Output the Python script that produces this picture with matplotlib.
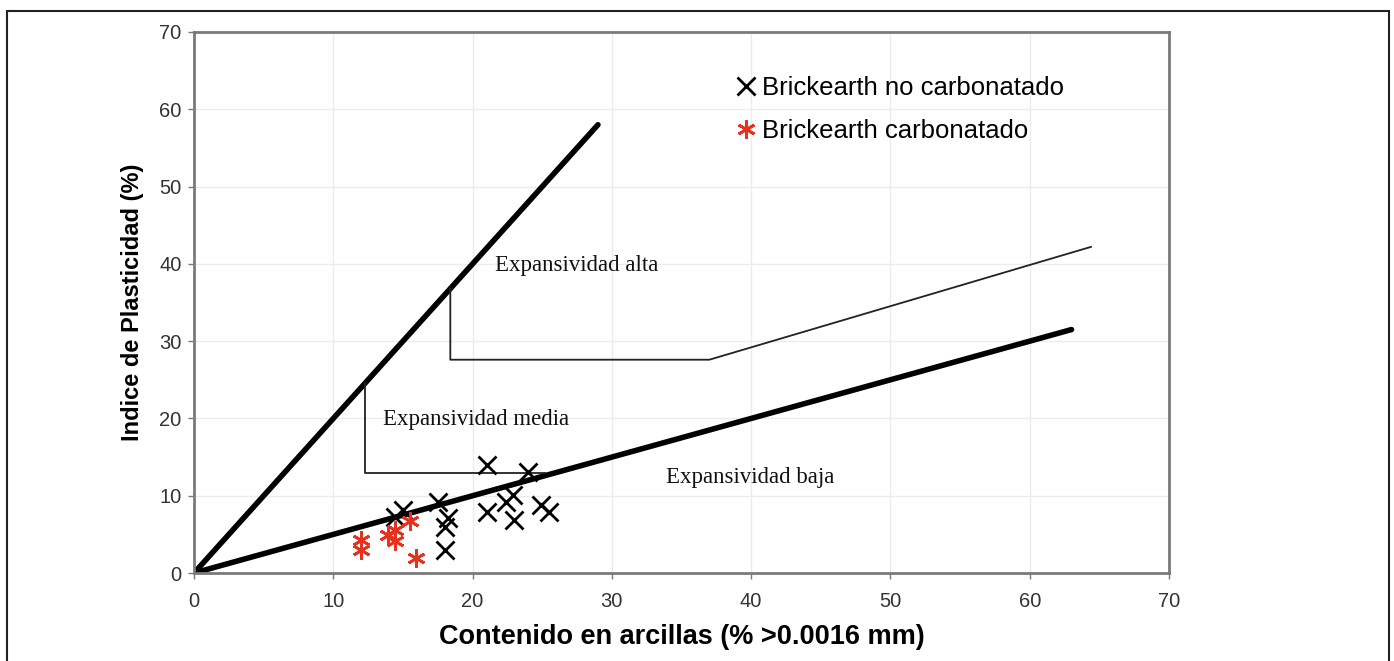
import numpy as np
import matplotlib.pyplot as plt
from matplotlib.patches import Rectangle

# muestras (contenido en arcillas, indice de plasticidad)
no_carb_x = [21.0, 24.0, 17.5, 18.2, 18.0, 18.0, 21.0, 22.4, 22.9, 23.0, 24.9, 25.5, 15.0, 14.4]
no_carb_y = [14.0, 13.1, 9.2, 7.1, 6.0, 3.0, 7.9, 9.2, 10.1, 6.9, 8.8, 7.9, 8.1, 7.3]

carb_x = [12.0, 12.0, 13.9, 14.4, 14.4, 15.5, 15.9]
carb_y = [4.3, 3.0, 4.9, 5.6, 4.1, 6.7, 1.9]

# limites de expansividad
alta_x, alta_y = [0, 29], [0, 58]
baja_x, baja_y = [0, 63], [0, 31.5]
sup_x, sup_y = [18.4, 18.4, 37.0, 64.4], [36.8, 27.6, 27.6, 42.2]
med_x, med_y = [12.3, 12.3, 25.2], [24.6, 12.9, 12.9]

zonas = ["Expansividad alta", "Expansividad media", "Expansividad baja"]
zonas_x = [21.6, 13.6, 33.9]
zonas_y = [39.8, 19.8, 12.3]

ticks = np.arange(0, 71, 10)

fig = plt.figure(figsize=(13.94, 6.61), dpi=100)
ax = fig.add_axes([0.1392, 0.1331, 0.6994, 0.8185])

# marco exterior
fig.patches.append(Rectangle((0.005, -0.02), 0.9915, 1.003, transform=fig.transFigure,
                             fill=False, edgecolor='#222222', linewidth=1.5))

ax.set_xlim(0, 70)
ax.set_ylim(0, 70)
ax.set_xticks(ticks)
ax.set_yticks(ticks)
ax.grid(True, color='#ececec', linewidth=1.0)
ax.set_axisbelow(True)
for s in ax.spines.values():
	s.set_color('#7a7a7a')
	s.set_linewidth(2.0)
ax.tick_params(colors='#7a7a7a', length=4, width=1, labelcolor='#333333', labelsize=14.5, pad=5)
ax.tick_params(axis='x', pad=10)
for lab in ax.get_xticklabels() + ax.get_yticklabels():
	lab.set_family('Liberation Sans')

ax.plot(alta_x, alta_y, color='black', lw=4, solid_capstyle='round')
ax.plot(baja_x, baja_y, color='black', lw=4, solid_capstyle='round')
ax.plot(sup_x, sup_y, color='#222222', lw=1.3)
ax.plot(med_x, med_y, color='#222222', lw=1.3)

for t, x, y in zip(zonas, zonas_x, zonas_y):
	ax.text(x, y, t, family='Liberation Serif', fontsize=16.5, va='center', ha='left', color='#111111')

ax.plot(no_carb_x, no_carb_y, linestyle='none', marker='x', color='black',
	markersize=13, markeredgewidth=2, label='Brickearth no carbonatado')
ax.plot(carb_x, carb_y, linestyle='none', marker=(6, 2, 0), color='#e8301e',
	markersize=13, markeredgewidth=2, label='Brickearth carbonatado')

leg = ax.legend(loc='upper left', bbox_to_anchor=(0.535, 0.962), frameon=False,
	prop={'family': 'Liberation Sans', 'size': 18.5}, handlelength=0.6,
	handletextpad=0.3, labelspacing=0.75)

ax.set_xlabel('Contenido en arcillas (% >0.0016 mm)', family='Liberation Sans',
	fontsize=19.5, fontweight='bold', labelpad=9)
ax.set_ylabel('Indice de Plasticidad (%)', family='Liberation Sans',
	fontsize=17, fontweight='bold', labelpad=11)

fig.savefig('out.png', dpi=100)
